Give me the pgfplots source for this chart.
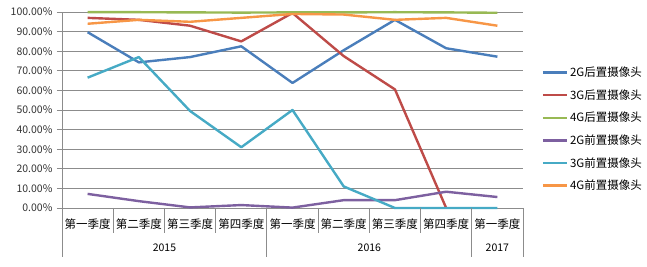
\documentclass[border=0pt]{standalone}
\usepackage{pgfplots}
\pgfplotsset{compat=1.18}
\usepackage{fontspec}
\setmainfont{Noto Sans CJK SC}
\definecolor{cblue}{HTML}{4A7EBB}
\definecolor{cred}{HTML}{BE4B48}
\definecolor{cgreen}{HTML}{98B954}
\definecolor{cpurple}{HTML}{7D60A0}
\definecolor{ccyan}{HTML}{46AAC5}
\definecolor{corange}{HTML}{F79646}
\definecolor{cgrid}{HTML}{8C8C8C}
\begin{document}
\begin{tikzpicture}
\path[use as bounding box] (-62pt,-59pt) rectangle (585pt,208pt);
\begin{axis}[
  at={(0pt,0pt)}, anchor=south west,
  scale only axis, width=461pt, height=196pt,
  xmin=-0.5, xmax=8.5, ymin=0, ymax=100,
  clip=false,
  axis lines=left, axis line style={-, cgrid, line width=0.8pt},
  xtick={0,...,8},
  xticklabels={第一季度,第二季度,第三季度,第四季度,第一季度,第二季度,第三季度,第四季度,第一季度},
  xtick style={draw=none},
  xticklabel style={font=\fontsize{11.5}{13}\selectfont, yshift=-2pt},
  ytick={0,10,...,100},
  yticklabels={0.00\%,10.00\%,20.00\%,30.00\%,40.00\%,50.00\%,60.00\%,70.00\%,80.00\%,90.00\%,100.00\%},
  yticklabel style={font=\fontsize{10.5}{12}\selectfont, xshift=-1pt, text=black!80},
  ytick style={cgrid, line width=0.8pt}, tick align=outside, major tick length=5pt,
  ymajorgrids, grid style={cgrid, line width=0.8pt},
  legend style={at={(1.04,0.73)}, anchor=north west, draw=none, fill=none,
    font=\fontsize{11.5}{13}\selectfont, row sep=7.4pt, inner sep=0pt},
  legend cell align=left,
  legend image code/.code={\draw[#1] (0pt,0pt) -- (24pt,0pt);},
  every axis plot/.append style={line width=2.4pt, mark=none, line join=round},
]
\addplot[cblue] coordinates {(0,89.7) (1,74.3) (2,77) (3,82.5) (4,63.8) (5,80.5) (6,96) (7,81.5) (8,77.2)};
\addlegendentry{2G后置摄像头}
\addplot[cred] coordinates {(0,97) (1,96) (2,93) (3,85) (4,99.5) (5,77.5) (6,60.5) (7,0)};
\addlegendentry{3G后置摄像头}
\addplot[cgreen] coordinates {(0,99.9) (1,99.9) (2,99.8) (3,99.7) (4,99.8) (5,99.8) (6,99.9) (7,99.8) (8,99.6)};
\addlegendentry{4G后置摄像头}
\addplot[cpurple] coordinates {(0,7.2) (1,3.5) (2,0.3) (3,1.5) (4,0.2) (5,4) (6,4) (7,8.3) (8,5.6)};
\addlegendentry{2G前置摄像头}
\addplot[ccyan] coordinates {(0,66.5) (1,77) (2,49.5) (3,31) (4,50) (5,11) (6,0) (7,0) (8,0)};
\addlegendentry{3G前置摄像头}
\addplot[corange] coordinates {(0,94) (1,96) (2,95) (3,97) (4,99) (5,98.7) (6,96) (7,97) (8,93)};
\addlegendentry{4G前置摄像头}
\end{axis}
% category separators
\foreach \k in {1,2,3,5,6,7} {
  \draw[cgrid, line width=0.8pt] ({461pt/9*\k},0pt) -- ({461pt/9*\k},-25pt);
}
\foreach \k in {0,4,8,9} {
  \draw[cgrid, line width=0.8pt] ({461pt/9*\k},0pt) -- ({461pt/9*\k},-49pt);
}
\node[font=\fontsize{10.5}{12}\selectfont] at ({461pt/9*2},-40pt) {2015};
\node[font=\fontsize{10.5}{12}\selectfont] at ({461pt/9*6},-40pt) {2016};
\node[font=\fontsize{10.5}{12}\selectfont] at ({461pt/9*8.5},-40pt) {2017};
\end{tikzpicture}
\end{document}
